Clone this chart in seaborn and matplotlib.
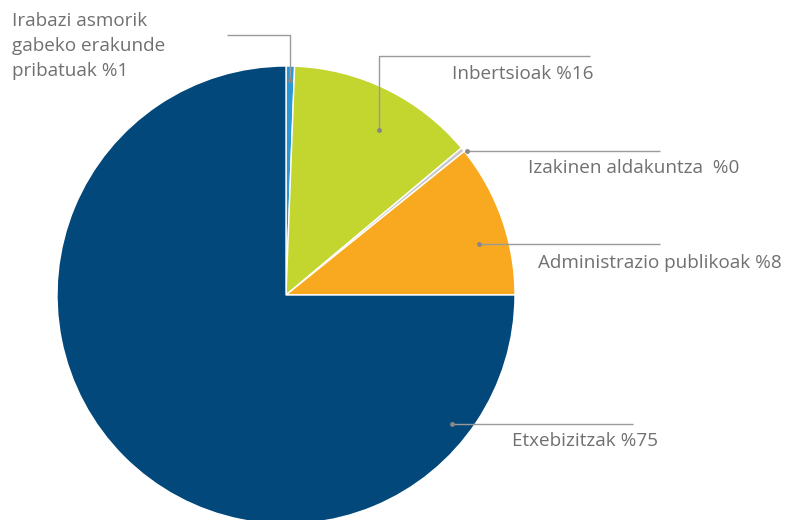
import matplotlib
matplotlib.use("Agg")
import matplotlib.pyplot as plt
import seaborn as sns

# shares as drawn (clockwise from 12 o'clock)
categories = ["Irabazi asmorik\ngabeko erakunde\npribatuak %1", "Inbertsioak %16",
              "Izakinen aldakuntza  %0", "Administrazio publikoak %8", "Etxebizitzak %75"]
shares = [0.6, 13.3, 0.3, 10.8, 75.0]
colors = ["#2b97d4", "#c3d630", "#c9c9c9", "#f9a91f", "#02487b"]

sns.set_style("white")
plt.rcParams["font.family"] = ["Open Sans", "DejaVu Sans"]

W, H = 790, 520
fig = plt.figure(figsize=(7.9, 5.2), dpi=100)
ax = fig.add_axes([0, 0, 1, 1])


def py(y):
    # pixel row -> data y
    return H - y


cx, cy, r = 286, py(295), 229
ax.pie(shares, colors=colors, startangle=90, counterclock=False,
       center=(cx, cy), radius=r,
       wedgeprops=dict(edgecolor="white", linewidth=1.0))

# leader lines: (dot, elbow, end) in pixels, then label position / alignment
leaders = [
    [(290, 80), (290, 35), (227, 35)],
    [(379, 130), (379, 56), (590, 56)],
    [(467, 151), (660, 151)],
    [(479, 244), (660, 244)],
    [(452, 424), (633, 424)],
]
label_pos = [(12, 46, "left"), (452, 74, "left"), (528, 168, "left"),
             (538, 263, "left"), (512, 441, "left")]

line_col = "#9a9a9a"
text_col = "#707070"
for pts, (tx, ty, ha), lab in zip(leaders, label_pos, categories):
    xs = [p[0] for p in pts]
    ys = [py(p[1]) for p in pts]
    ax.plot(xs, ys, color=line_col, lw=1, solid_capstyle="butt")
    ax.plot(xs[0], ys[0], "o", color="#888888", ms=2.5)
    ax.text(tx, py(ty), lab, ha=ha, va="center", color=text_col,
            fontsize=13.6, linespacing=1.5)

ax.set_aspect("auto")
ax.set_xlim(0, W)
ax.set_ylim(0, H)
ax.axis("off")

fig.savefig("out.png", dpi=100)
